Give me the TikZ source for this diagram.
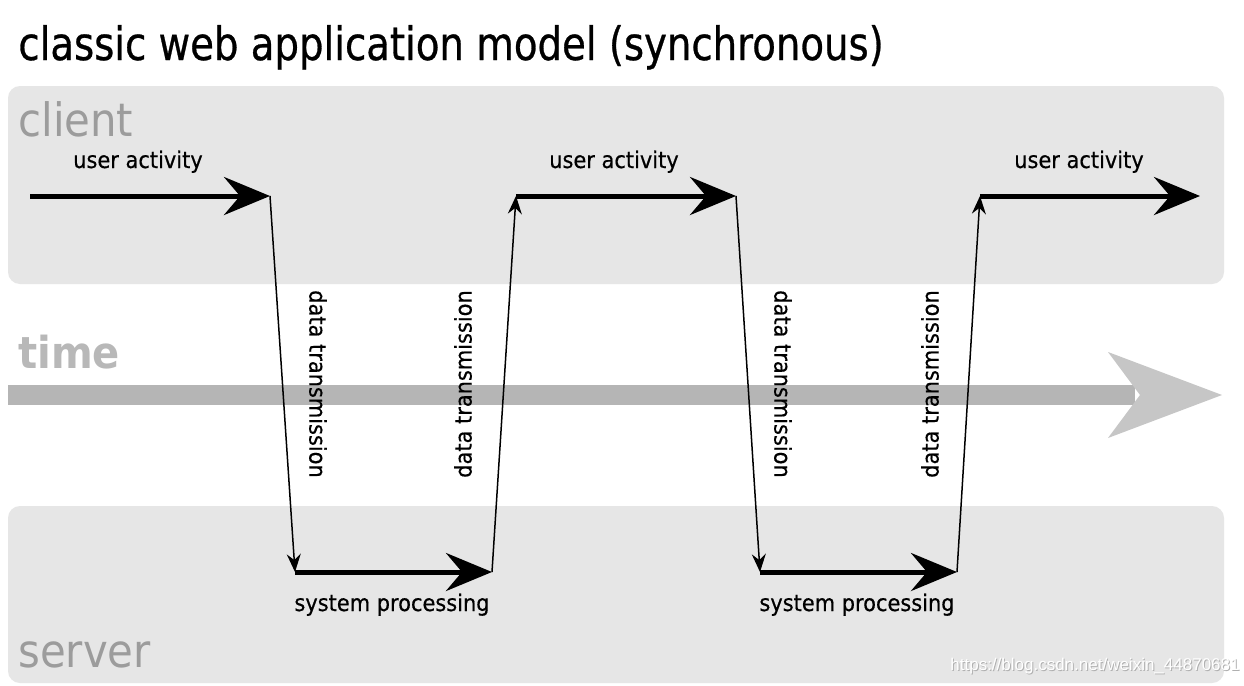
\documentclass[tikz,border=0pt]{standalone}
\usepackage{fontspec}
\setmainfont{DejaVu Sans}
\newfontfamily\titlefont[FakeStretch=0.84,FakeBold=0.6]{DejaVu Sans}
\newfontfamily\labfont[FakeStretch=0.91]{DejaVu Sans}
\newfontfamily\smallfont[FakeStretch=0.91,FakeBold=0.5]{DejaVu Sans}
\newfontfamily\wmfont{Liberation Sans}
\usetikzlibrary{arrows.meta}
\definecolor{lanegray}{HTML}{E6E6E6}
\definecolor{lanetext}{HTML}{9C9C9C}
\definecolor{timetext}{HTML}{B8B8B8}
\definecolor{timeband}{HTML}{B5B5B5}
\definecolor{timehead}{HTML}{C6C6C6}
\definecolor{wmshadow}{HTML}{B0B0B0}
\tikzset{
  lane/.style={fill=lanegray, rounded corners=6pt},
  lanelabel/.style={anchor=base west, inner sep=0pt, text=lanetext, font=\labfont\fontsize{23pt}{26pt}\selectfont},
  thickarrow/.style={line width=2.5pt, -{Stealth[length=23pt,width=19pt,inset=8pt]}},
  thinarrow/.style={line width=0.75pt, -{Stealth[length=9pt,width=7pt,inset=3pt]}},
  smalllabel/.style={inner sep=0pt, font=\smallfont\fontsize{11.5pt}{13pt}\selectfont},
  wmtext/.style={anchor=base east, inner sep=0pt, font=\wmfont\fontsize{8.5pt}{10pt}\selectfont},
}
\begin{document}
\begin{tikzpicture}[x=0.5pt,y=-0.5pt]
\useasboundingbox (0,0) rectangle (1244,686);
\fill[white] (0,0) rectangle (1244,686);
% title
\node[anchor=base west, inner sep=0pt, font=\titlefont\fontsize{23pt}{26pt}\selectfont] (title) at (18,60) {classic web application model (synchronous)};
% lanes
\fill[lane] (8,86) rectangle (1224,284);
\fill[lane] (8,506) rectangle (1224,683);
\node[lanelabel] (client) at (18,136) {client};
\node[lanelabel] (server) at (18,667) {server};
% time
\node[anchor=base west, inner sep=0pt, text=timetext, font=\labfont\bfseries\fontsize{22pt}{26pt}\selectfont] (time) at (18,368) {time};
\fill[timeband] (8,385) rectangle (1135,405);
\fill[timehead] (1108,352) -- (1222,395) -- (1108,438) -- (1140,395) -- cycle;
% coordinates
\coordinate (c0) at (30,196);
\coordinate (c1) at (270,196);
\coordinate (s1a) at (295,572);
\coordinate (s1b) at (492,572);
\coordinate (c2a) at (516,196);
\coordinate (c2b) at (736,196);
\coordinate (s2a) at (760,572);
\coordinate (s2b) at (957,572);
\coordinate (c3a) at (980,196);
\coordinate (c3b) at (1200,196);
% arrows
\draw[thickarrow] (c0) -- (c1);
\draw[thinarrow] (c1) -- (s1a);
\draw[thickarrow] (s1a) -- (s1b);
\draw[thinarrow] (s1b) -- (c2a);
\draw[thickarrow] (c2a) -- (c2b);
\draw[thinarrow] (c2b) -- (s2a);
\draw[thickarrow] (s2a) -- (s2b);
\draw[thinarrow] (s2b) -- (c3a);
\draw[thickarrow] (c3a) -- (c3b);
% labels
\node[smalllabel, anchor=base] (ua1) at (138,168) {user activity};
\node[smalllabel, anchor=base] (ua2) at (614,168) {user activity};
\node[smalllabel, anchor=base] (ua3) at (1079,168) {user activity};
\node[smalllabel, anchor=base] (sp1) at (392,611) {system processing};
\node[smalllabel, anchor=base] (sp2) at (857,611) {system processing};
\node[smalllabel, rotate=-90] (dt1) at (318,384) {data transmission};
\node[smalllabel, rotate=90] (dt2) at (463,384) {data transmission};
\node[smalllabel, rotate=-90] (dt3) at (783,384) {data transmission};
\node[smalllabel, rotate=90] (dt4) at (930,384) {data transmission};
% watermark
\node[wmtext, text=wmshadow] (wmshade) at (1241,671) {https://blog.csdn.net/weixin\_44870681};
\node[wmtext, text=white] (wm) at (1240,670) {https://blog.csdn.net/weixin\_44870681};
\end{tikzpicture}
\end{document}
